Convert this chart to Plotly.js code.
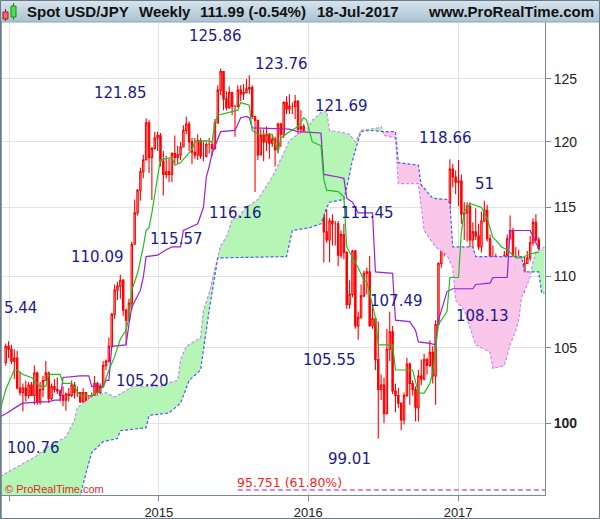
<!DOCTYPE html>
<html><head><meta charset="utf-8">
<script src="https://cdn.plot.ly/plotly-3.0.1.min.js"></script>
<style>html,body{margin:0;padding:0;background:#fff;}#chart{width:600px;height:519px;}</style>
</head><body><div id="chart"></div>
<script>
// ---------- weekly candles ----------
const weeks = [
'2013-12-23','2013-12-30',
'2014-01-06','2014-01-13','2014-01-20','2014-01-27','2014-02-03','2014-02-10','2014-02-17','2014-02-24','2014-03-03','2014-03-10','2014-03-17','2014-03-24','2014-03-31','2014-04-07','2014-04-14','2014-04-21','2014-04-28','2014-05-05','2014-05-12','2014-05-19','2014-05-26','2014-06-02','2014-06-09','2014-06-16','2014-06-23','2014-06-30','2014-07-07','2014-07-14','2014-07-21','2014-07-28','2014-08-04','2014-08-11','2014-08-18','2014-08-25','2014-09-01','2014-09-08','2014-09-15','2014-09-22','2014-09-29','2014-10-06','2014-10-13','2014-10-20','2014-10-27','2014-11-03','2014-11-10','2014-11-17','2014-11-24','2014-12-01','2014-12-08','2014-12-15','2014-12-22','2014-12-29',
'2015-01-05','2015-01-12','2015-01-19','2015-01-26','2015-02-02','2015-02-09','2015-02-16','2015-02-23','2015-03-02','2015-03-09','2015-03-16','2015-03-23','2015-03-30','2015-04-06','2015-04-13','2015-04-20','2015-04-27','2015-05-04','2015-05-11','2015-05-18','2015-05-25','2015-06-01','2015-06-08','2015-06-15','2015-06-22','2015-06-29','2015-07-06','2015-07-13','2015-07-20','2015-07-27','2015-08-03','2015-08-10','2015-08-17','2015-08-24','2015-08-31','2015-09-07','2015-09-14','2015-09-21','2015-09-28','2015-10-05','2015-10-12','2015-10-19','2015-10-26','2015-11-02','2015-11-09','2015-11-16','2015-11-23','2015-11-30','2015-12-07','2015-12-14','2015-12-21','2015-12-28',
'2016-01-04','2016-01-11','2016-01-18','2016-01-25','2016-02-01','2016-02-08','2016-02-15','2016-02-22','2016-02-29','2016-03-07','2016-03-14','2016-03-21','2016-03-28','2016-04-04','2016-04-11','2016-04-18','2016-04-25','2016-05-02','2016-05-09','2016-05-16','2016-05-23','2016-05-30','2016-06-06','2016-06-13','2016-06-20','2016-06-27','2016-07-04','2016-07-11','2016-07-18','2016-07-25','2016-08-01','2016-08-08','2016-08-15','2016-08-22','2016-08-29','2016-09-05','2016-09-12','2016-09-19','2016-09-26','2016-10-03','2016-10-10','2016-10-17','2016-10-24','2016-10-31','2016-11-07','2016-11-14','2016-11-21','2016-11-28','2016-12-05','2016-12-12','2016-12-19','2016-12-26',
'2017-01-02','2017-01-09','2017-01-16','2017-01-23','2017-01-30','2017-02-06','2017-02-13','2017-02-20','2017-02-27','2017-03-06','2017-03-13','2017-03-20','2017-03-27','2017-04-03','2017-04-10','2017-04-17','2017-04-24','2017-05-01','2017-05-08','2017-05-15','2017-05-22','2017-05-29','2017-06-05','2017-06-12','2017-06-19','2017-06-26','2017-07-03','2017-07-10','2017-07-17'];

const openP = [
104.0,105.1,104.9,104.1,104.3,102.3,102.0,102.3,101.8,102.5,
101.8,103.3,101.4,102.2,102.8,103.3,101.6,102.4,102.2,102.1,
101.8,101.5,101.9,101.8,102.5,102.0,102.0,101.4,102.0,101.3,
101.3,101.8,102.6,102.0,102.4,103.8,104.1,105.1,107.3,109.0,
109.3,109.7,107.6,106.9,108.1,112.3,114.6,116.3,117.7,118.6,
121.5,118.8,119.5,120.3,120.5,118.5,117.5,117.7,117.5,119.1,
118.8,119.0,119.6,120.9,121.4,120.0,119.2,119.0,120.1,118.9,
118.9,119.8,119.8,119.5,121.5,124.1,125.6,123.4,122.7,123.9,
122.8,122.8,124.1,123.8,123.9,124.2,124.3,122.0,121.7,119.0,
120.5,120.0,120.6,119.9,120.2,119.4,121.4,120.6,123.1,122.6,
122.8,122.8,123.2,121.0,121.2,120.3,120.2,117.2,117.0,118.8,
121.1,116.8,113.2,112.6,114.0,113.8,113.8,111.5,113.0,111.7,
108.0,108.7,111.8,106.5,107.1,108.6,110.2,110.3,106.5,107.0,
104.2,102.2,102.5,100.6,104.9,106.1,102.1,101.8,101.3,100.2,
101.8,103.9,102.6,102.2,101.0,103.1,102.9,104.2,103.8,104.7,
103.1,106.6,110.9,113.2,113.5,115.3,117.9,117.3,116.9,117.0,
114.5,114.6,115.1,112.6,113.2,112.9,112.1,114.0,114.8,112.7,
111.3,111.4,111.1,109.1,109.1,111.5,112.7,113.3,111.3,111.3,
110.4,110.3,110.9,111.3,112.4,113.9,112.6];
const highP = [
105.3,105.44,105.2,104.9,104.8,103.4,102.6,102.8,102.7,102.7,
103.8,103.4,102.7,103.1,104.1,103.4,102.6,102.9,103.0,102.2,
102.4,102.0,102.3,102.8,102.7,102.4,102.0,102.3,102.0,101.8,
102.0,103.1,102.7,102.6,104.1,104.2,105.7,107.4,109.4,109.6,
110.09,109.8,107.7,108.4,112.5,115.6,116.4,118.0,119.0,121.85,
121.7,119.6,120.8,120.8,120.7,119.3,118.9,118.7,119.2,120.5,
119.7,120.0,121.3,122.0,121.6,120.3,120.3,120.6,120.3,120.1,
120.0,120.3,120.0,121.8,124.5,125.86,125.6,124.0,124.4,123.9,
122.9,124.5,124.5,124.6,125.0,125.3,124.5,122.0,121.7,121.0,
121.0,121.2,120.7,120.6,120.4,121.5,121.5,123.2,123.6,123.76,
123.1,123.7,123.3,122.5,121.4,120.7,120.2,118.8,118.9,121.69,
121.3,117.4,114.9,114.2,114.5,114.0,114.0,113.3,113.8,111.8,
109.7,111.9,111.9,107.5,109.4,110.4,110.6,111.45,107.9,107.0,
106.8,103.2,103.0,106.3,107.49,106.5,102.6,102.3,101.3,102.0,
104.3,104.0,102.8,102.4,103.5,104.2,104.6,104.3,105.5,105.1,
106.9,111.0,113.9,114.8,115.4,118.66,118.3,117.8,118.6,117.5,
115.4,115.4,115.4,113.9,114.95,113.8,114.7,115.51,115.2,113.0,
112.2,111.6,111.2,109.5,111.8,113.0,114.4,113.5,112.1,111.9,
110.8,111.4,111.8,112.9,114.2,114.5,112.8];
const lowP = [
103.8,104.3,103.9,102.9,102.2,101.8,100.76,101.4,101.6,101.9,
101.2,101.2,101.2,101.7,102.8,101.3,101.5,102.0,101.9,101.4,
101.1,100.8,101.4,101.7,101.6,101.7,101.3,101.3,101.1,101.1,
101.2,101.8,101.5,101.9,102.3,103.5,104.0,105.0,107.0,108.3,
108.4,107.2,105.2,106.8,107.6,112.3,114.4,115.5,117.2,118.6,
117.6,115.57,119.4,119.3,118.1,115.9,117.2,116.9,116.9,118.3,
118.3,118.6,119.6,120.6,119.3,118.3,118.7,118.6,118.7,118.5,
118.8,119.1,118.9,119.4,121.4,123.7,122.5,122.5,122.6,122.1,
120.4,122.7,123.2,123.3,123.9,123.8,121.8,116.16,118.6,119.0,
118.5,119.3,118.7,119.6,118.1,119.1,119.6,120.3,122.2,122.2,
122.2,121.8,120.3,120.5,120.1,119.9,116.7,116.5,115.98,118.2,
116.6,110.98,112.4,111.0,112.2,112.2,110.7,111.3,111.2,107.7,
107.7,108.5,106.3,105.55,107.0,108.5,108.7,106.5,106.3,103.5,
99.01,101.5,99.99,100.6,104.1,101.9,100.7,101.0,99.54,99.9,
101.7,101.2,101.8,100.1,100.1,102.5,102.8,103.2,103.7,102.6,
101.2,106.6,110.6,111.4,113.1,114.7,116.5,116.0,115.1,113.8,
112.6,112.5,111.6,111.6,112.6,111.9,111.7,113.9,112.5,110.6,
110.1,110.1,108.8,108.13,109.1,111.3,112.7,110.2,110.8,110.3,
109.1,108.8,110.9,111.1,112.2,112.5,111.8];
const closeP = [
105.1,104.9,104.1,104.3,102.3,102.0,102.3,101.8,102.5,101.8,
103.3,101.4,102.2,102.8,103.3,101.6,102.4,102.2,102.1,101.8,
101.5,101.9,101.8,102.5,102.0,102.0,101.4,102.0,101.3,101.3,
101.8,102.6,102.0,102.4,103.8,104.1,105.1,107.3,109.0,109.3,
109.7,107.6,106.9,108.1,112.3,114.6,116.3,117.7,118.6,121.5,
118.8,119.5,120.3,120.5,118.5,117.5,117.7,117.5,119.1,118.8,
119.0,119.6,120.9,121.4,120.0,119.2,119.0,120.1,118.9,118.9,
119.8,119.8,119.5,121.5,124.1,125.6,123.4,122.7,123.9,122.8,
122.8,124.1,123.8,123.9,124.2,124.3,122.0,121.7,119.0,120.5,
120.0,120.6,119.9,120.2,119.4,121.4,120.6,123.1,122.6,122.8,
122.8,123.2,121.0,121.2,120.3,120.2,117.2,117.0,118.8,121.1,
116.8,113.2,112.6,114.0,113.8,113.8,111.5,113.0,111.7,108.0,
108.7,111.8,106.5,107.1,108.6,110.2,110.3,106.5,107.0,104.2,
102.2,102.5,100.6,104.9,106.1,102.1,101.8,101.3,100.2,101.8,
103.9,102.6,102.2,101.0,103.1,102.9,104.2,103.8,104.7,103.1,
106.6,110.9,113.2,113.5,115.3,117.9,117.3,116.9,117.0,114.5,
114.6,115.1,112.6,113.2,112.9,112.1,114.0,114.8,112.7,111.3,
111.4,111.1,109.1,109.1,111.5,112.7,113.3,111.3,111.3,110.4,
110.3,110.9,111.3,112.4,113.9,112.6,111.99];

// ---------- Ichimoku lines (vertices) ----------
const tenkanDates = ['2013-12-09','2013-12-23','2014-01-13','2014-01-20','2014-02-03','2014-02-24','2014-03-03','2014-03-17','2014-03-31','2014-04-07','2014-05-05','2014-05-12','2014-06-02','2014-06-23','2014-07-21','2014-08-04','2014-08-18','2014-09-01','2014-09-15','2014-09-29','2014-10-13','2014-10-20','2014-10-27','2014-11-10','2014-11-24','2014-12-01','2014-12-08','2014-12-15','2014-12-29','2015-01-05','2015-02-02','2015-02-09','2015-02-23','2015-03-16','2015-03-23','2015-03-30','2015-04-27','2015-05-11','2015-05-18','2015-05-25','2015-06-22','2015-06-29','2015-07-13','2015-07-20','2015-08-10','2015-08-17','2015-08-31','2015-10-05','2015-10-19','2015-10-26','2015-11-16','2015-12-07','2015-12-21','2015-12-28','2016-01-11','2016-02-01','2016-02-08','2016-02-15','2016-03-14','2016-03-28','2016-04-04','2016-05-02','2016-05-16','2016-05-23','2016-06-13','2016-06-20','2016-07-25','2016-08-01','2016-09-12','2016-09-26','2016-10-10','2016-10-24','2016-10-31','2016-11-14','2016-12-05','2016-12-12','2017-01-02','2017-01-09','2017-01-16','2017-01-30','2017-02-27','2017-03-13','2017-03-27','2017-04-03','2017-04-17','2017-05-01','2017-05-22','2017-06-05','2017-06-19','2017-07-10','2017-07-17'];
const tenkanVals = [100.8,102.2,103.5,103.5,103.2,103.0,102.8,102.4,102.4,103.2,103.2,102.6,102.6,101.8,101.8,102.0,102.4,103.5,104.4,105.6,106.2,107.1,109.0,110.2,112.1,113.3,113.5,114.6,117.3,118.6,118.8,118.2,118.4,119.1,119.4,120.0,120.1,120.0,121.5,122.1,122.3,122.4,122.5,123.1,122.9,120.9,120.6,120.6,119.2,120.3,120.8,121.2,121.9,121.7,120.0,119.7,117.1,116.3,116.2,115.8,112.1,110.6,109.7,109.6,107.1,105.2,105.2,103.5,103.5,101.96,101.96,102.6,103.3,106.6,107.5,109.9,109.9,113.2,114.7,115.3,115.0,114.2,112.8,112.6,112.1,111.9,111.3,111.3,111.5,111.7,111.7];

const kijunDates = ['2013-12-09','2013-12-23','2014-01-27','2014-02-03','2014-04-07','2014-04-21','2014-05-05','2014-05-12','2014-06-23','2014-07-14','2014-07-21','2014-08-18','2014-08-25','2014-09-01','2014-09-08','2014-10-13','2014-10-20','2014-10-27','2014-11-17','2014-11-24','2014-12-01','2014-12-29','2015-01-19','2015-02-02','2015-02-23','2015-03-02','2015-03-23','2015-04-06','2015-04-20','2015-04-27','2015-05-04','2015-05-11','2015-06-01','2015-07-06','2015-07-20','2015-08-03','2015-08-10','2015-08-17','2015-11-16','2015-12-07','2016-02-01','2016-02-08','2016-03-14','2016-03-28','2016-04-04','2016-04-18','2016-05-02','2016-06-06','2016-06-13','2016-07-25','2016-08-01','2016-09-05','2016-09-19','2016-09-26','2016-10-24','2016-11-07','2016-11-14','2016-12-05','2016-12-19','2017-02-06','2017-02-13','2017-03-20','2017-03-27','2017-05-01','2017-05-08','2017-06-26','2017-07-10','2017-07-17'];
const kijunVals = [100.4,100.6,101.2,101.3,101.4,101.5,101.5,103.0,103.1,103.1,102.4,102.4,102.8,102.8,105.1,105.2,106.6,107.8,109.0,109.9,111.4,111.5,111.9,112.1,112.1,113.3,113.6,113.8,115.0,117.3,118.1,119.1,120.8,120.9,121.9,122.0,121.9,121.1,121.0,120.8,120.7,117.5,117.3,117.2,115.7,115.4,114.6,114.6,110.3,110.2,106.9,106.8,106.2,105.4,105.3,105.2,106.9,108.9,109.1,109.1,109.4,109.5,109.9,109.9,113.3,113.3,112.4,112.0];

const spanADates = ['2013-12-09','2014-01-20','2014-03-03','2014-04-07','2014-05-19','2014-06-09','2014-06-16','2014-07-21','2014-08-25','2014-09-15','2014-10-06','2014-10-27','2015-01-05','2015-01-19','2015-02-16','2015-02-23','2015-03-09','2015-04-13','2015-04-20','2015-05-04','2015-05-18','2015-06-01','2015-06-15','2015-06-29','2015-07-13','2015-08-03','2015-08-31','2015-09-14','2015-10-05','2015-10-19','2015-11-02','2015-11-16','2015-12-07','2015-12-28','2016-01-11','2016-02-01','2016-02-15','2016-02-22','2016-03-28','2016-04-11','2016-04-25','2016-05-09','2016-05-30','2016-06-20','2016-06-27','2016-07-04','2016-08-01','2016-08-08','2016-09-26','2016-10-03','2016-10-10','2016-11-07','2016-12-05','2016-12-19','2016-12-26','2017-01-16','2017-01-30','2017-02-13','2017-03-20','2017-03-27','2017-04-24','2017-05-08','2017-05-22','2017-05-29','2017-06-05','2017-06-19','2017-06-26','2017-07-03','2017-07-10','2017-07-31'];
const spanAVals = [96.6,97.2,97.8,98.5,99.1,100.2,101.0,101.7,102.0,101.7,102.0,102.4,102.4,102.6,102.8,104.2,105.1,105.7,107.6,108.8,110.6,112.2,112.8,114.1,114.3,115.0,115.6,116.3,117.3,118.2,119.1,120.1,120.6,120.9,121.7,122.3,122.4,120.9,120.7,120.6,120.0,120.9,121.0,121.1,121.2,120.5,120.3,116.8,116.8,115.0,113.3,112.1,111.5,110.6,108.3,107.6,106.4,105.2,104.7,103.6,103.8,105.2,106.2,106.9,108.5,109.4,110.0,111.0,111.7,112.1];

const spanBDates = ['2013-12-09','2014-03-17','2014-06-09','2014-06-23','2014-07-07','2014-07-21','2014-08-18','2014-09-22','2014-09-29','2014-12-01','2014-12-08','2015-01-26','2015-02-23','2015-03-16','2015-04-13','2015-05-04','2015-05-25','2015-11-09','2015-11-23','2016-01-04','2016-02-01','2016-02-15','2016-02-22','2016-03-28','2016-04-04','2016-04-18','2016-05-02','2016-05-09','2016-05-30','2016-07-04','2016-08-01','2016-08-08','2016-09-26','2016-10-03','2016-10-31','2016-12-05','2016-12-12','2016-12-19','2017-02-06','2017-02-13','2017-06-05','2017-06-12','2017-07-17','2017-07-24','2017-07-31'];
const spanBVals = [92.7,93.9,95.1,95.4,96.8,98.1,98.8,99.0,99.5,99.7,100.5,100.65,101.3,102.8,103.5,107.6,111.3,111.4,113.3,113.5,113.8,115.0,115.4,115.6,116.5,118.6,120.1,120.8,120.9,120.8,120.8,118.4,118.2,116.7,115.7,115.6,115.3,112.1,112.1,111.4,111.4,110.3,110.3,108.8,108.8];

// Fibonacci retracement level
const fibLevel = 95.751;
const fibText = '95.751 (61.80%)';
const fibStart = '2015-07-13';

// swing labels
const swingTexts = ['125.86','123.76','121.85','121.69','118.66','51','116.16','115.57','111.45','110.09','5.44','107.49','108.13','105.55','105.20','100.76','99.01'];
// label positions in pixels (layout only)
const swingPX = [215,281,120,341,445,484,235,176,367,97,20,396,482,329,142,33,349];
const swingPY = [36,64,93,106,138,184,213,239,213,257,308,301,316,360,381,448,459];

const yTicks = [100,105,110,115,120,125];
const yTickText = ['<b>100</b>','105','110','115','120','125'];
const xTicks = ['2014-01-01','2015-01-01','2016-01-01','2017-01-01'];
const xTickText = ['','2015','2016','2017'];

// ---------- helpers ----------
const PX = p => (p - 1) / 544;
const PY = p => (495 - p) / 473;
const toMs = d => Date.parse(d + 'T00:00:00Z');
const fromMs = m => new Date(m).toISOString().slice(0,19).replace('T',' ');
const L = Math.log10;

function interpLog(xs, ys, x){
  if (x <= xs[0]) return L(ys[0]);
  if (x >= xs[xs.length-1]) return L(ys[ys.length-1]);
  for (let i=1;i<xs.length;i++){
    if (x <= xs[i]){
      const t = (x - xs[i-1])/(xs[i]-xs[i-1]);
      return L(ys[i-1]) + t*(L(ys[i]) - L(ys[i-1]));
    }
  }
}

// cloud polygons (split where span A crosses span B)
const aX = spanADates.map(toMs), bX = spanBDates.map(toMs);
const ux = Array.from(new Set(aX.concat(bX))).sort((p,q)=>p-q);
const pts = ux.map(x => ({x, a: interpLog(aX, spanAVals, x), b: interpLog(bX, spanBVals, x)}));
const full = [pts[0]];
for (let i=1;i<pts.length;i++){
  const p = pts[i-1], q = pts[i];
  const dp = p.a - p.b, dq = q.a - q.b;
  if (dp*dq < 0){
    const t = dp/(dp-dq);
    const la = p.a + t*(q.a-p.a);
    full.push({x: p.x + t*(q.x-p.x), a: la, b: la});
  }
  full.push(q);
}
const segs = [];
let cur = null;
for (const p of full){
  const d = p.a - p.b;
  const s = d > 0 ? 1 : (d < 0 ? -1 : 0);
  if (!cur){ cur = {sign: s, pts: [p]}; continue; }
  if (s === 0){ cur.pts.push(p); segs.push(cur); cur = {sign: 0, pts:[p]}; continue; }
  if (cur.sign === 0) cur.sign = s;
  if (s === cur.sign) cur.pts.push(p);
  else { segs.push(cur); cur = {sign: s, pts: [cur.pts[cur.pts.length-1], p]}; }
}
if (cur) segs.push(cur);

const traces = [];
for (const sg of segs){
  if (sg.pts.length < 2 || sg.sign === 0) continue;
  const xs = sg.pts.map(p=>fromMs(p.x)).concat(sg.pts.slice().reverse().map(p=>fromMs(p.x)));
  const ys = sg.pts.map(p=>Math.pow(10,p.a)).concat(sg.pts.slice().reverse().map(p=>Math.pow(10,p.b)));
  traces.push({type:'scatter', mode:'lines', x: xs, y: ys, fill:'toself',
    fillcolor: sg.sign > 0 ? '#b5f5b5' : '#fac6ea', line:{width:0, color:'rgba(0,0,0,0)'}, hoverinfo:'skip'});
}

// candles
traces.push({type:'candlestick', x: weeks, open: openP, high: highP, low: lowP, close: closeP,
  increasing:{line:{color:'#ff0000', width:1.1}, fillcolor:'#ffffff'},
  decreasing:{line:{color:'#ff0000', width:1.1}, fillcolor:'#ff0000'},
  whiskerwidth:0, hoverinfo:'skip'});

// spans
traces.push({type:'scatter', mode:'lines', x: spanADates, y: spanAVals, line:{color:'#c48cf2', width:1.2, dash:'3px,2px'}, hoverinfo:'skip'});
traces.push({type:'scatter', mode:'lines', x: spanBDates, y: spanBVals, line:{color:'#4a5cf0', width:1.2, dash:'3px,2px'}, hoverinfo:'skip'});
// tenkan / kijun
traces.push({type:'scatter', mode:'lines', x: kijunDates, y: kijunVals, line:{color:'#9b1fd6', width:1.2}, hoverinfo:'skip'});
traces.push({type:'scatter', mode:'lines', x: tenkanDates, y: tenkanVals, line:{color:'#1fbf1f', width:1.2}, hoverinfo:'skip'});
// fib line
traces.push({type:'scatter', mode:'lines', x: [fibStart, '2017-08-05'], y: [fibLevel, fibLevel], line:{color:'#9a1fe0', width:1.2, dash:'5px,3px'}, hoverinfo:'skip'});

// ---------- annotations ----------
const ann = [];
swingTexts.forEach((t,i)=>{
  ann.push({xref:'paper', yref:'paper', x: PX(swingPX[i]), y: PY(swingPY[i]), text: t, showarrow:false,
    xanchor:'center', yanchor:'middle', font:{family:'DejaVu Sans, Verdana, sans-serif', size:15, color:'#1a1a8c'}});
});
ann.push({xref:'paper', yref:'paper', x: PX(289), y: PY(482), text: fibText, showarrow:false, xanchor:'center', yanchor:'middle',
  font:{family:'DejaVu Sans, Verdana, sans-serif', size:12.5, color:'#ff2020'}});
ann.push({xref:'paper', yref:'paper', x: PX(3), y: PY(489), text: '© ProRealTime.com', showarrow:false, xanchor:'left', yanchor:'middle',
  font:{family:'Liberation Sans, Arial, sans-serif', size:11, color:'#e02828'}});

// title bar texts
const titleFont = {family:'Liberation Sans, Arial, sans-serif', size:15, color:'#111'};
const titleItems = [['Spot USD/JPY',25,'left'],['Weekly',137,'left'],['111.99 (-0.54%)',198,'left'],['18-Jul-2017',315,'left'],['www.ProRealTime.com',596,'right']];
titleItems.forEach(it=>{
  ann.push({xref:'paper', yref:'paper', x: PX(it[1]), y: PY(11.5), text: '<b>'+it[0]+'</b>', showarrow:false,
    xanchor: it[2], yanchor:'middle', font: titleFont});
});

// ---------- shapes ----------
const shapes = [
  {type:'line', xref:'paper', yref:'paper', x0: PX(0), x1: PX(600), y0: PY(22), y1: PY(22), line:{color:'#8ea3b2', width:1}},
  {type:'rect', xref:'paper', yref:'paper', x0: PX(0.5), x1: PX(599.5), y0: PY(0.5), y1: PY(518.5), line:{color:'#6c7c88', width:1}},
  {type:'line', xref:'paper', yref:'paper', x0: PX(1), x1: PX(1), y0: PY(22), y1: PY(519), line:{color:'#6c7c88', width:1.5}},
  {type:'line', xref:'paper', yref:'paper', x0: PX(5.5), x1: PX(5.5), y0: PY(9), y1: PY(21), line:{color:'#b01818', width:1}},
  {type:'rect', xref:'paper', yref:'paper', x0: PX(3), x1: PX(8), y0: PY(12), y1: PY(19), fillcolor:'#f06a6a', line:{color:'#b01818', width:1}},
  {type:'line', xref:'paper', yref:'paper', x0: PX(13.5), x1: PX(13.5), y0: PY(3), y1: PY(20), line:{color:'#108a10', width:1}},
  {type:'rect', xref:'paper', yref:'paper', x0: PX(11), x1: PX(16), y0: PY(6), y1: PY(17), fillcolor:'#4fe04f', line:{color:'#108a10', width:1}}
];

const svgGrad = "<svg xmlns='http://www.w3.org/2000/svg' width='600' height='22' preserveAspectRatio='none'><defs><linearGradient id='g' x1='0' y1='0' x2='0' y2='1'><stop offset='0' stop-color='#d9e6ee'/><stop offset='1' stop-color='#a9c2d2'/></linearGradient></defs><rect width='600' height='22' fill='url(#g)'/></svg>";

const layout = {
  width:600, height:519,
  margin:{l:1, r:55, t:22, b:24, pad:0},
  paper_bgcolor:'#ffffff', plot_bgcolor:'#ffffff',
  showlegend:false,
  font:{family:'Liberation Sans, Arial, sans-serif', color:'#222'},
  xaxis:{type:'date', range:['2013-12-11 12:00','2017-08-01 06:00'], tickmode:'array', tickvals: xTicks, ticktext: xTickText,
    showgrid:true, gridcolor:'#e2e2e2', gridwidth:1, ticks:'outside', ticklen:5, tickcolor:'#7a8a96',
    showline:true, linecolor:'#7a8a96', linewidth:1, tickfont:{size:13, color:'#222'}, zeroline:false,
    rangeslider:{visible:false}, fixedrange:true},
  yaxis:{type:'log', side:'right', range:[1.97973, 2.11296], tickmode:'array', tickvals: yTicks, ticktext: yTickText,
    showgrid:true, gridcolor:'#e2e2e2', gridwidth:1, ticks:'outside', ticklen:5, tickcolor:'#7a8a96',
    showline:true, linecolor:'#7a8a96', linewidth:1, tickfont:{size:14, color:'#222'}, zeroline:false, fixedrange:true},
  annotations: ann,
  shapes: shapes,
  images:[{source:'data:image/svg+xml;charset=utf-8,' + encodeURIComponent(svgGrad), xref:'paper', yref:'paper',
    x: PX(0), y: PY(0), sizex: 600/544, sizey: 22/473, xanchor:'left', yanchor:'top', sizing:'stretch', layer:'below'}]
};

Plotly.newPlot('chart', traces, layout, {staticPlot:true, displayModeBar:false});
</script>
</body></html>
